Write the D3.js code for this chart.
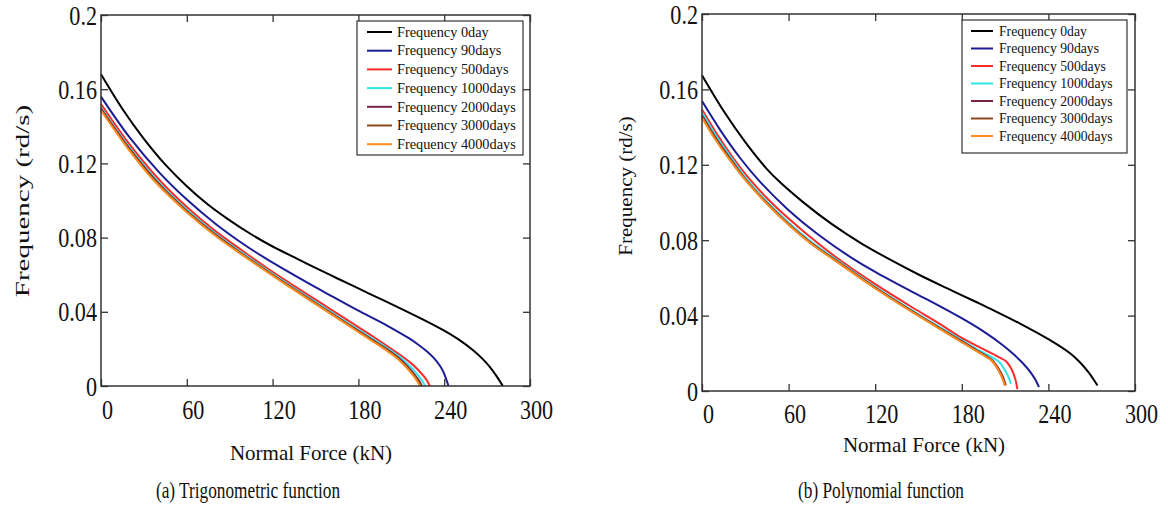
<!DOCTYPE html>
<html>
<head>
<meta charset="utf-8">
<script src="https://cdn.jsdelivr.net/npm/d3@7"></script>
<style>
  body { margin: 0; background: #fff; }
  svg { display: block; }
  text { font-family: "Liberation Serif", "Times New Roman", serif; }
</style>
</head>
<body>
<div id="chart"></div>
<script>
// series names / ticks
const seriesNames = ["Frequency 0day", "Frequency 90days", "Frequency 500days", "Frequency 1000days",
    "Frequency 2000days", "Frequency 3000days", "Frequency 4000days"];
const xTicks = [0, 60, 120, 180, 240, 300];
const yTicks = [0, 0.04, 0.08, 0.12, 0.16, 0.2];
const yTickLabels = ["0", "0.04", "0.08", "0.12", "0.16", "0.2"];

// (a) trigonometric function: [normal force kN, frequency rd/s]
const trig0day = [[0,0.168],[15,0.1493],[30,0.1332],[45,0.1193],[60,0.1077],[75,0.0977],[90,0.0893],[105,0.0818],[120,0.0752],[138,0.0683],[150,0.0637],[165,0.0581],[180,0.0526],[195,0.0471],[210,0.0416],[225,0.0359],[240,0.0298],[250,0.0251],[260,0.0194],[267,0.0145],[272,0.0102],[276,0.0060],[279,0.0025],[281,0.0]];
const trig90days = [[0,0.156],[20,0.134],[41,0.1149],[60,0.1005],[80,0.0875],[100,0.0763],[116,0.0684],[140,0.0576],[160,0.0490],[179,0.0410],[200,0.0326],[215,0.0259],[221,0.0228],[228,0.0186],[233,0.0149],[237,0.0109],[239.5,0.0075],[241.5,0.0035],[243,0.0]];
const trig500days = [[0,0.152],[20,0.1302],[41,0.1109],[60,0.0965],[80,0.0835],[100,0.0723],[116,0.0636],[135,0.0540],[155,0.0441],[174,0.0347],[190,0.0268],[205,0.0189],[211,0.0158],[217,0.0122],[222,0.0085],[226,0.0050],[228.5,0.0022],[230,0.0]];
const trig1000days = [[0,0.150],[20,0.1285],[41,0.1092],[60,0.0950],[80,0.0822],[100,0.0711],[116,0.0625],[135,0.0528],[155,0.0428],[174,0.0333],[190,0.0254],[203,0.0189],[210,0.0150],[216,0.0108],[221,0.0065],[224.5,0.0030],[226.6,0.0]];
const trig2000days = [[0,0.1495],[20,0.1278],[41,0.1085],[60,0.0944],[80,0.0816],[100,0.0705],[116,0.0620],[135,0.0523],[155,0.0422],[174,0.0327],[190,0.0247],[201,0.0192],[208,0.0152],[214,0.0108],[219,0.0064],[222.5,0.0028],[224.3,0.0]];
const trig3000days = [[0,0.149],[20,0.1273],[41,0.1080],[60,0.0940],[80,0.0813],[100,0.0702],[116,0.0618],[135,0.0520],[155,0.0419],[174,0.0324],[190,0.0244],[200,0.0192],[207,0.0152],[213,0.0108],[218,0.0064],[221.7,0.0028],[223.6,0.0]];
const trig4000days = [[0,0.1485],[20,0.1268],[36,0.1116],[60,0.0937],[80,0.0810],[100,0.0700],[116,0.0616],[135,0.0518],[155,0.0417],[174,0.0321],[190,0.0241],[200,0.0190],[207,0.0150],[213,0.0105],[218,0.0060],[221,0.0027],[223,0.0]];

// (b) polynomial function
const poly0day = [[0,0.1675],[15,0.1485],[30,0.1320],[45,0.1177],[53,0.1115],[70,0.1002],[90,0.0885],[110,0.0785],[132,0.0690],[150,0.0618],[170,0.0544],[190,0.0472],[202,0.0428],[220,0.0359],[240,0.0275],[255,0.0200],[262,0.0151],[268,0.0097],[272,0.0053],[274,0.003]];
const poly90days = [[0,0.1538],[13,0.1380],[26,0.1240],[39,0.1120],[60,0.0959],[80,0.0833],[107,0.0690],[125,0.0611],[145,0.0529],[165,0.0449],[179,0.0390],[195,0.0316],[208,0.0245],[215.5,0.0197],[222,0.0150],[227,0.0105],[231,0.0060],[233.5,0.002]];
const poly500days = [[0,0.1493],[11,0.1355],[22,0.1232],[33,0.1124],[50,0.0985],[70,0.0849],[96,0.0692],[120,0.0567],[145,0.0447],[165,0.0355],[179,0.0286],[195,0.0222],[205,0.0182],[211,0.0155],[214.5,0.0115],[217,0.0065],[218.5,0.001]];
const poly1000days = [[0,0.1477],[10,0.1350],[20,0.1240],[31,0.1124],[45,0.1005],[60,0.0893],[75,0.0796],[94,0.0692],[120,0.0553],[145,0.0431],[165,0.0337],[179,0.0274],[192,0.0215],[205,0.0160],[209,0.0122],[212,0.0080],[214,0.0037]];
const poly2000days = [[0,0.1462],[10,0.1337],[20,0.1228],[30,0.1124],[45,0.0997],[60,0.0886],[75,0.0789],[93,0.0692],[120,0.0549],[145,0.0426],[165,0.0332],[179,0.0268],[190,0.0217],[201,0.0164],[205.5,0.0118],[208.5,0.0075],[210.5,0.003]];
const poly3000days = [[0,0.1455],[10,0.1330],[20,0.1222],[30,0.1121],[45,0.0994],[60,0.0883],[75,0.0786],[93,0.0689],[120,0.0546],[145,0.0423],[165,0.0329],[179,0.0265],[190,0.0214],[200.8,0.0161],[205,0.0116],[208,0.0072],[209.8,0.003]];
const poly4000days = [[0,0.145],[10,0.1325],[20,0.1218],[30,0.1120],[45,0.0993],[60,0.0882],[75,0.0785],[93,0.0688],[120,0.0545],[145,0.0422],[165,0.0328],[179,0.0264],[190,0.0213],[200.8,0.0160],[205,0.0115],[208,0.0070],[210,0.003]];

const colors = ["#000000", "#1c1c96", "#ff2a2a", "#2fe6e6", "#7a1f45", "#8a4a1c", "#ff8c1e"];

const serif = "Liberation Serif, Times New Roman, serif";
const W = 1168, H = 514;
const svg = d3.select("#chart").append("svg")
    .attr("width", W)
    .attr("height", H)
    .attr("font-family", serif);

function drawPanel(opt) {
    const x = d3.scaleLinear().domain([0, 300]).range([opt.left, opt.right]);
    const y = d3.scaleLinear().domain([0, 0.2]).range([opt.bottom, opt.top]);
    const g = svg.append("g");
    const sx = 0.82;

    // curves
    const line = d3.line()
        .x(d => x(d[0]))
        .y(d => y(d[1]))
        .curve(d3.curveCatmullRom.alpha(0.5));
    opt.series.forEach((s, i) => {
        g.append("path")
            .attr("d", line(s))
            .attr("fill", "none")
            .attr("stroke", colors[i])
            .attr("stroke-width", 2);
    });

    // axes (ticks pointing inward, mirrored)
    const bottomAx = g.append("g")
        .attr("transform", `translate(0,${opt.bottom})`)
        .call(d3.axisBottom(x).tickValues(xTicks).tickSizeInner(-7).tickSizeOuter(0));
    bottomAx.selectAll("text")
        .attr("transform", `scale(${sx},1)`)
        .attr("x", 6 / sx)
        .attr("y", opt.xLabelGap)
        .attr("dy", null);
    g.append("g")
        .attr("transform", `translate(0,${opt.top})`)
        .call(d3.axisTop(x).tickValues(xTicks).tickSizeInner(-7).tickSizeOuter(0).tickFormat(""));
    const leftAx = g.append("g")
        .attr("transform", `translate(${opt.left},0)`)
        .call(d3.axisLeft(y).tickValues(yTicks).tickSizeInner(-7).tickSizeOuter(0)
            .tickFormat((d, i) => yTickLabels[i]));
    leftAx.selectAll("text")
        .attr("transform", `scale(${sx},1)`)
        .attr("x", -4 / sx)
        .attr("dy", "0.34em");
    g.append("g")
        .attr("transform", `translate(${opt.right},0)`)
        .call(d3.axisRight(y).tickValues(yTicks).tickSizeInner(-7).tickSizeOuter(0).tickFormat(""));
    g.selectAll(".domain").remove();
    g.selectAll(".tick line").attr("stroke", "#333").attr("stroke-width", 1.3);
    g.selectAll(".tick").each(function() {
        d3.select(this.parentNode).attr("font-family", serif).attr("font-size", 27);
    });
    g.selectAll(".tick text").attr("fill", "#111");

    g.append("rect")
        .attr("x", opt.left).attr("y", opt.top)
        .attr("width", opt.right - opt.left)
        .attr("height", opt.bottom - opt.top)
        .attr("fill", "none")
        .attr("stroke", "#333")
        .attr("stroke-width", 1.5);

    // axis titles
    g.append("text")
        .attr("x", opt.xTitle[0]).attr("y", opt.xTitle[1])
        .attr("text-anchor", "middle")
        .attr("font-family", serif)
        .attr("font-size", opt.xTitleSize)
        .attr("fill", "#111")
        .text("Normal Force (kN)");
    g.append("text")
        .attr("transform", `translate(${opt.yTitle[0]},${opt.yTitle[1]}) scale(${opt.yTitleSx},1) rotate(-90)`)
        .attr("text-anchor", "middle")
        .attr("dy", "0.32em")
        .attr("font-family", serif)
        .attr("font-size", opt.yTitleSize)
        .attr("fill", "#111")
        .text("Frequency (rd/s)");

    // legend
    const lg = opt.legend;
    g.append("rect")
        .attr("x", lg.x).attr("y", lg.y)
        .attr("width", lg.w).attr("height", lg.h)
        .attr("fill", "#fff")
        .attr("stroke", "#333")
        .attr("stroke-width", 1.2);
    seriesNames.forEach((name, i) => {
        const cy = lg.y + lg.first + i * lg.step;
        g.append("line")
            .attr("x1", lg.x + lg.lineX0).attr("x2", lg.x + lg.lineX1)
            .attr("y1", cy).attr("y2", cy)
            .attr("stroke", colors[i])
            .attr("stroke-width", 2);
        g.append("text")
            .attr("x", lg.x + lg.textX)
            .attr("y", cy)
            .attr("dy", "0.33em")
            .attr("font-family", serif)
            .attr("font-size", lg.fontSize)
            .attr("fill", "#111")
            .text(name);
    });

    // caption
    g.append("text")
        .attr("transform", `translate(${opt.caption[0]},${opt.caption[1]}) scale(0.72,1)`)
        .attr("text-anchor", "middle")
        .attr("font-family", serif)
        .attr("font-size", 24)
        .attr("fill", "#111")
        .text(opt.captionText);
}

drawPanel({
    left: 101, right: 530, top: 15, bottom: 386,
    series: [trig0day, trig90days, trig500days, trig1000days, trig2000days, trig3000days, trig4000days],
    xLabelGap: 33,
    xTitle: [311, 460], xTitleSize: 21,
    yTitle: [23, 201], yTitleSize: 29, yTitleSx: 0.68,
    legend: {x: 357, y: 21, w: 166, h: 134, first: 11, step: 18.7, lineX0: 10, lineX1: 35, textX: 40, fontSize: 14.3},
    caption: [248, 498],
    captionText: "(a) Trigonometric function"
});

drawPanel({
    left: 702, right: 1135, top: 14, bottom: 391,
    series: [poly0day, poly90days, poly500days, poly1000days, poly2000days, poly3000days, poly4000days],
    xLabelGap: 32,
    xTitle: [924, 452], xTitleSize: 21,
    yTitle: [626, 186], yTitleSize: 21, yTitleSx: 0.9,
    legend: {x: 962, y: 20, w: 165, h: 133, first: 11, step: 17.5, lineX0: 9, lineX1: 31, textX: 37, fontSize: 13.7},
    caption: [881, 498],
    captionText: "(b) Polynomial function"
});
</script>
</body>
</html>
